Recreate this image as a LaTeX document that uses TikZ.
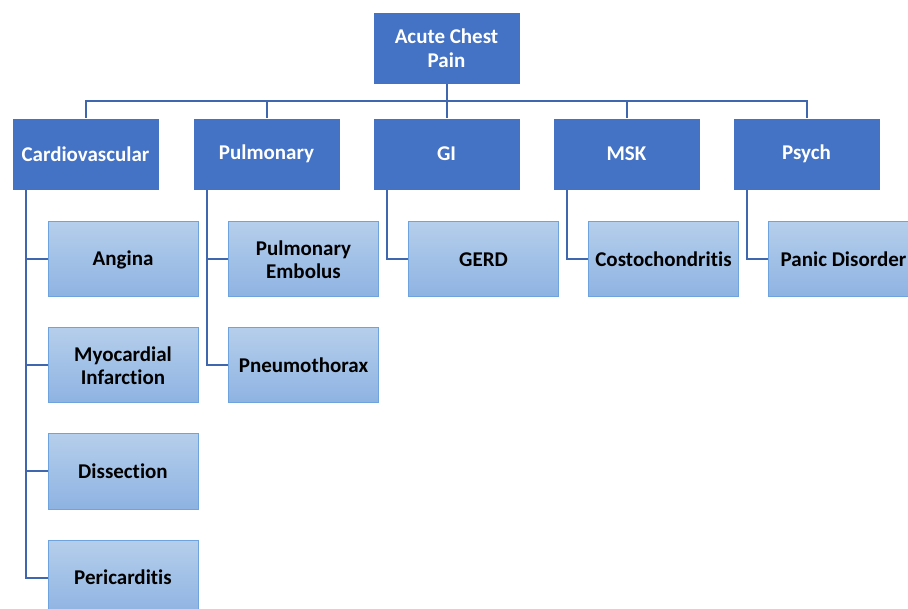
\documentclass[tikz,border=0pt]{standalone}
\usepackage{fontspec}
\setmainfont{Carlito}[Ligatures=NoCommon]
\definecolor{lvlone}{HTML}{4472C4}
\definecolor{conncol}{HTML}{4066AE}
\definecolor{childtop}{HTML}{B5CEEB}
\definecolor{childbot}{HTML}{8EB3E2}
\definecolor{childedge}{HTML}{6FA3DE}
\tikzset{
  toplevel/.style={rectangle, fill=lvlone, draw=white, line width=0.8pt, minimum width=147pt, minimum height=72pt, inner sep=2pt, align=center, text=white, font=\fontsize{21}{23.5}\selectfont\bfseries},
  childbox/.style={rectangle, top color=childtop, bottom color=childbot, draw=childedge, line width=1pt, minimum width=150pt, minimum height=75pt, inner sep=2pt, align=center, text=black, font=\fontsize{21}{23.5}\selectfont\bfseries},
  conn/.style={draw=conncol, line width=2pt},
}
\begin{document}
\begin{tikzpicture}[x=1pt,y=1pt]
\useasboundingbox (0,0) rectangle (908,-609);
\clip (0,0) rectangle (908,-609);
% top level
\node[toplevel] (root) at (446.5,-48) {Acute Chest\\Pain};
\node[toplevel] (cv) at (85.5,-154) {Cardiovascular};
\node[toplevel] (pul) at (266.5,-154) {Pulmonary};
\node[toplevel] (gi) at (446.5,-154) {GI};
\node[toplevel] (msk) at (626.5,-154) {MSK};
\node[toplevel] (psy) at (806.5,-154) {Psych};
\coordinate (bar) at (446.5,-101);
% children
\node[childbox] (ang) at (123,-259.5) {Angina};
\node[childbox] (mi) at (123,-365.5) {Myocardial\\Infarction};
\node[childbox] (dis) at (123,-471.5) {Dissection};
\node[childbox] (per) at (123,-577.5) {Pericarditis};
\node[childbox] (pe) at (303.5,-259.5) {Pulmonary\\Embolus};
\node[childbox] (ptx) at (303.5,-365.5) {Pneumothorax};
\node[childbox] (gerd) at (483.5,-259.5) {GERD};
\node[childbox] (costo) at (663.5,-259.5) {Costochondritis};
\node[childbox] (panic) at (843.5,-259.5) {Panic Disorder};
% connectors
\foreach \t in {cv,pul,gi,msk,psy}{
  \draw[conn] (root.south) -- (bar) -| (\t.north);
}
\draw[conn] ([xshift=14pt]cv.south west) |- (ang.west);
\draw[conn] ([xshift=14pt]cv.south west) |- (mi.west);
\draw[conn] ([xshift=14pt]cv.south west) |- (dis.west);
\draw[conn] ([xshift=14pt]cv.south west) |- (per.west);
\draw[conn] ([xshift=14pt]pul.south west) |- (pe.west);
\draw[conn] ([xshift=14pt]pul.south west) |- (ptx.west);
\draw[conn] ([xshift=14pt]gi.south west) |- (gerd.west);
\draw[conn] ([xshift=14pt]msk.south west) |- (costo.west);
\draw[conn] ([xshift=14pt]psy.south west) |- (panic.west);
\end{tikzpicture}
\end{document}
